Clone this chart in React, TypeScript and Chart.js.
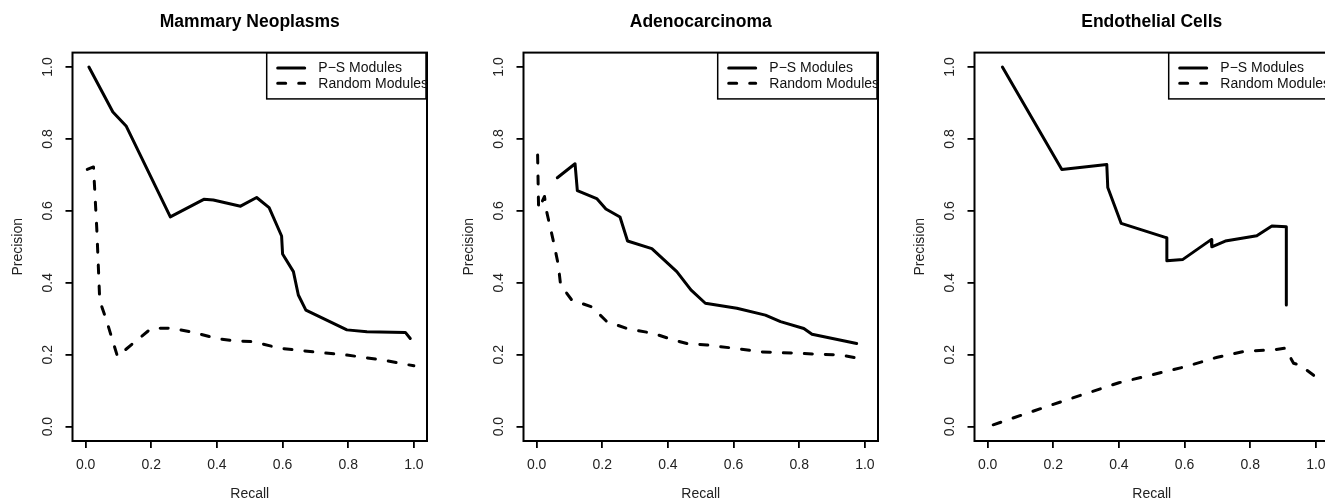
import React, { useEffect, useRef } from "react";
import { Chart, registerables } from "chart.js";

Chart.register(...registerables);

const FONT = "'Liberation Sans', Arial, Helvetica, sans-serif";

// ---- Data ----
const AXIS_TICKS = [0, 0.2, 0.4, 0.6, 0.8, 1.0];
const PANEL_TITLES = ["Mammary Neoplasms", "Adenocarcinoma", "Endothelial Cells"];
const SERIES_LABELS = ["P\u2212S Modules", "Random Modules"];

const mammaryPSRecall = [0.01, 0.083, 0.124, 0.258, 0.36, 0.389, 0.472, 0.521, 0.559, 0.597, 0.6, 0.633, 0.648, 0.671, 0.796, 0.857, 0.974, 0.989];
const mammaryPSPrecision = [1.0, 0.875, 0.835, 0.583, 0.632, 0.63, 0.613, 0.637, 0.609, 0.53, 0.48, 0.431, 0.366, 0.324, 0.269, 0.264, 0.262, 0.245];
const mammaryRandomRecall = [0.005, 0.024, 0.034, 0.043, 0.063, 0.097, 0.145, 0.2, 0.261, 0.33, 0.399, 0.45, 0.511, 0.592, 0.704, 0.796, 0.907, 1.0];
const mammaryRandomPrecision = [0.715, 0.722, 0.55, 0.35, 0.297, 0.195, 0.232, 0.273, 0.274, 0.262, 0.245, 0.239, 0.236, 0.218, 0.207, 0.199, 0.185, 0.169];

const adenoPSRecall = [0.063, 0.117, 0.124, 0.183, 0.211, 0.254, 0.277, 0.351, 0.427, 0.47, 0.514, 0.61, 0.697, 0.743, 0.814, 0.839, 0.975];
const adenoPSPrecision = [0.692, 0.731, 0.656, 0.634, 0.605, 0.583, 0.516, 0.495, 0.431, 0.38, 0.343, 0.329, 0.31, 0.292, 0.273, 0.257, 0.231];
const adenoRandomRecall = [0.003, 0.006, 0.024, 0.03, 0.05, 0.066, 0.073, 0.107, 0.168, 0.214, 0.275, 0.356, 0.417, 0.458, 0.519, 0.6, 0.682, 0.793, 0.926, 1.0];
const adenoRandomPrecision = [0.755, 0.605, 0.64, 0.6, 0.52, 0.45, 0.394, 0.352, 0.333, 0.292, 0.273, 0.259, 0.241, 0.231, 0.227, 0.218, 0.208, 0.204, 0.199, 0.187];

const endoPSRecall = [0.045, 0.226, 0.363, 0.366, 0.407, 0.546, 0.546, 0.595, 0.681, 0.683, 0.724, 0.82, 0.866, 0.91, 0.91];
const endoPSPrecision = [1.0, 0.715, 0.729, 0.665, 0.565, 0.525, 0.461, 0.465, 0.52, 0.5, 0.516, 0.531, 0.558, 0.556, 0.338];
const endoRandomRecall = [0.017, 0.2, 0.4, 0.6, 0.7, 0.785, 0.866, 0.907, 0.932, 0.952, 1.0];
const endoRandomPrecision = [0.005, 0.062, 0.122, 0.166, 0.193, 0.21, 0.213, 0.218, 0.176, 0.171, 0.138];

const PS_RECALL = [mammaryPSRecall, adenoPSRecall, endoPSRecall];
const PS_PRECISION = [mammaryPSPrecision, adenoPSPrecision, endoPSPrecision];
const RANDOM_RECALL = [mammaryRandomRecall, adenoRandomRecall, endoRandomRecall];
const RANDOM_PRECISION = [mammaryRandomPrecision, adenoRandomPrecision, endoRandomPrecision];

const zip = (xs: number[], ys: number[]) => xs.map((x, i) => ({ x, y: ys[i] }));

// ---- R-like frame and legend ----
const rFramePlugin = {
  id: "rFrame",
  afterDraw(chart: any) {
    const { ctx, chartArea } = chart;
    const { left, top, right, bottom } = chartArea;
    ctx.save();
    // plot box
    ctx.strokeStyle = "#000";
    ctx.lineWidth = 2;
    ctx.strokeRect(left, top, right - left, bottom - top);

    // legend (top-right, clipped to plot region like R)
    ctx.beginPath();
    ctx.rect(left, top, right - left, bottom - top);
    ctx.clip();
    const lx = right - 160.3;
    const ly = top;
    ctx.lineWidth = 1.5;
    ctx.strokeRect(lx, ly, 160.3 - 1, 46.3);
    const rows = [15.3, 30.7];
    chart.data.datasets.forEach((ds: any, i: number) => {
      const y = ly + rows[i];
      ctx.save();
      ctx.strokeStyle = ds.borderColor;
      ctx.lineWidth = ds.borderWidth;
      ctx.lineCap = "round";
      ctx.setLineDash(ds.borderDash || []);
      ctx.beginPath();
      ctx.moveTo(lx + 11, y);
      ctx.lineTo(lx + 38, y);
      ctx.stroke();
      ctx.restore();
      ctx.fillStyle = "#111";
      ctx.font = `14px ${FONT}`;
      ctx.textBaseline = "middle";
      ctx.textAlign = "left";
      ctx.fillText(ds.label, lx + 51.6, y + 0.5);
    });
    ctx.restore();
  },
};

function makeAxis(isX: boolean, titleText: string) {
  return {
    type: "linear" as const,
    min: -0.04,
    max: 1.04,
    afterBuildTicks: (scale: any) => {
      scale.ticks = AXIS_TICKS.map((v) => ({ value: v }));
    },
    afterFit: (scale: any) => {
      if (isX) scale.height = 61;
      else scale.width = 72.5;
    },
    grid: {
      display: true,
      drawOnChartArea: false,
      drawTicks: true,
      tickLength: 7,
      color: "#000",
      lineWidth: 1.8,
    },
    border: { display: false },
    ticks: {
      autoSkip: false,
      callback: (v: any) => Number(v).toFixed(1),
      font: { family: FONT, size: 14 },
      color: "#222",
      padding: isX ? 9 : 7.5,
      minRotation: isX ? 0 : 90,
      maxRotation: isX ? 0 : 90,
      ...(isX ? {} : { crossAlign: "center" as const }),
    },
    title: {
      display: true,
      text: titleText,
      font: { family: FONT, size: 14, lineHeight: 1.0 },
      color: "#222",
      padding: isX ? { top: 0, bottom: 0.5 } : { top: 11.5, bottom: 0 },
    },
  };
}

function Panel({ index, left }: { index: number; left: number }) {
  const ref = useRef<HTMLCanvasElement>(null);
  useEffect(() => {
    const chart = new Chart(ref.current as HTMLCanvasElement, {
      type: "line",
      data: {
        datasets: [
          {
            label: SERIES_LABELS[0],
            data: zip(PS_RECALL[index], PS_PRECISION[index]),
            borderColor: "#000",
            borderWidth: 3,
            pointRadius: 0,
            borderCapStyle: "round",
            borderJoinStyle: "round",
            tension: 0,
            fill: false,
          },
          {
            label: SERIES_LABELS[1],
            data: zip(RANDOM_RECALL[index], RANDOM_PRECISION[index]),
            borderColor: "#000",
            borderWidth: 3,
            borderDash: [8, 13],
            pointRadius: 0,
            borderCapStyle: "round",
            borderJoinStyle: "round",
            tension: 0,
            fill: false,
          },
        ],
      } as any,
      options: {
        animation: false,
        responsive: false,
        devicePixelRatio: 1,
        layout: { padding: { left: 0, right: 24, top: 0, bottom: 0 } },
        scales: {
          x: makeAxis(true, "Recall"),
          y: makeAxis(false, "Precision"),
        } as any,
        plugins: {
          legend: { display: false },
          tooltip: { enabled: false },
          title: {
            display: true,
            text: PANEL_TITLES[index],
            fullSize: false,
            color: "#000",
            font: { family: FONT, size: 17.5, weight: "bold" },
            padding: { top: 11.8, bottom: 19.8 },
          },
        },
      } as any,
      plugins: [rFramePlugin],
    });
    return () => chart.destroy();
  }, [index]);
  return (
    <canvas
      ref={ref}
      width={451}
      height={502}
      style={{ position: "absolute", left, top: 0, width: 451, height: 502 }}
    />
  );
}

export default function App() {
  return (
    <div
      style={{
        position: "fixed",
        left: 0,
        top: 0,
        width: 1325,
        height: 502,
        overflow: "hidden",
        background: "#fff",
      }}
    >
      {PANEL_TITLES.map((_, i) => (
        <Panel key={i} index={i} left={i * 451} />
      ))}
    </div>
  );
}
